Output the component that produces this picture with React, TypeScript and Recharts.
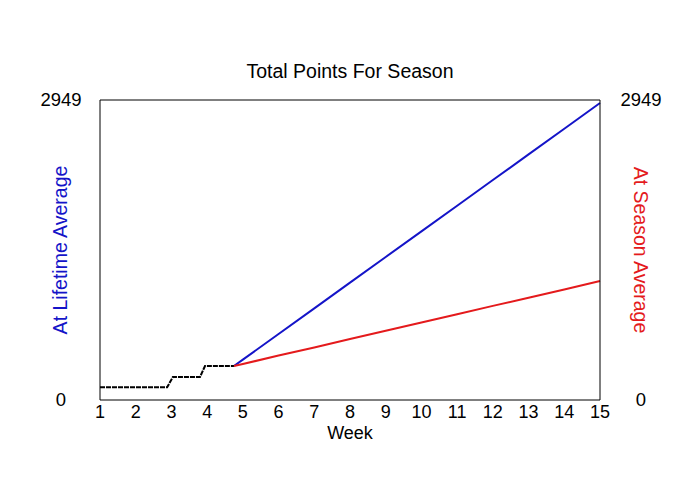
import { LineChart, Line, XAxis, YAxis, ReferenceLine } from 'recharts'

const weekTicks = [1, 2, 3, 4, 5, 6, 7, 8, 9, 10, 11, 12, 13, 14, 15]
const pointTicks = [0, 2949]

// weeks already played
const playedWeeks = [1, 2.88, 3.04, 3.8, 3.94, 4.75]
const playedPoints = [125, 125, 226, 226, 334, 334]

// projection at lifetime average
const lifetimeWeeks = [4.75, 5, 6, 7, 8, 9, 10, 11, 12, 13, 14, 15]
const lifetimePoints = [334, 397, 649, 901, 1154, 1406, 1658, 1910, 2162, 2414, 2667, 2919]

// projection at season average
const seasonWeeks = [4.75, 5, 6, 7, 8, 9, 10, 11, 12, 13, 14, 15]
const seasonPoints = [334, 354, 437, 517, 599, 680, 762, 843, 925, 1006, 1087, 1169]

const BLUE = '#1414c8'
const RED = '#e41a1c'
const FONT = '"Liberation Sans", Arial, sans-serif'

const toRows = (xs: number[], ys: number[]) => xs.map((week, i) => ({ week, pts: ys[i] }))

const played = toRows(playedWeeks, playedPoints)
const lifetime = toRows(lifetimeWeeks, lifetimePoints)
const season = toRows(seasonWeeks, seasonPoints)

function YTick({ y, payload, cx }: any) {
  return (
    <text x={cx} y={y} dy={5.5} textAnchor="middle" fontSize={18.5} fill="#000" fontFamily={FONT}>
      {payload.value}
    </text>
  )
}

function SideLabel({ viewBox, text, color, angle, offset }: any) {
  const x = viewBox.x + offset
  const y = viewBox.y + viewBox.height / 2
  return (
    <text x={x} y={y} textAnchor="middle" dominantBaseline="central" fontSize={19.5} fill={color}
      fontFamily={FONT} transform={`rotate(${angle} ${x} ${y})`}>
      {text}
    </text>
  )
}

export default function App() {
  return (
    <div style={{ position: 'absolute', left: 0, top: 0, width: 700, height: 500, background: '#fff', fontFamily: FONT }}>
      <div style={{ position: 'absolute', top: 62, left: 0, width: 700, textAlign: 'center', fontSize: 19.5, lineHeight: '19.5px', color: '#000' }}>
        Total Points For Season
      </div>
      <LineChart width={700} height={500} margin={{ top: 100, right: 0, bottom: 0, left: 0 }}>
        <XAxis
          type="number"
          dataKey="week"
          domain={[1, 15]}
          ticks={weekTicks}
          height={100}
          tickLine={false}
          tickSize={0}
          tickMargin={5}
          axisLine={{ stroke: '#000' }}
          tick={{ fontSize: 18, fill: '#000', fontFamily: FONT }}
          label={(p: any) => (
            <text x={p.viewBox.x + p.viewBox.width / 2} y={439} textAnchor="middle" fontSize={18} fill="#000" fontFamily={FONT}>
              Week
            </text>
          )}
        />
        <YAxis
          yAxisId="left"
          width={100}
          domain={[0, 2949]}
          ticks={pointTicks}
          allowDataOverflow
          tickLine={false}
          axisLine={{ stroke: '#000' }}
          tick={<YTick cx={61} />}
          label={(p: any) => <SideLabel viewBox={p.viewBox} text="At Lifetime Average" color={BLUE} angle={-90} offset={60} />}
        />
        <YAxis
          yAxisId="right"
          orientation="right"
          width={100}
          domain={[0, 2949]}
          ticks={pointTicks}
          allowDataOverflow
          tickLine={false}
          axisLine={{ stroke: '#000' }}
          tick={<YTick cx={641} />}
          label={(p: any) => <SideLabel viewBox={p.viewBox} text="At Season Average" color={RED} angle={90} offset={41} />}
        />
        <ReferenceLine yAxisId="left" y={2949} stroke="#000" ifOverflow="visible" />
        <Line yAxisId="left" data={lifetime} dataKey="pts" stroke={BLUE} strokeWidth={2} dot={false} isAnimationActive={false} />
        <Line yAxisId="right" data={season} dataKey="pts" stroke={RED} strokeWidth={2} dot={false} isAnimationActive={false} />
        <Line yAxisId="left" data={played} dataKey="pts" stroke="#000" strokeWidth={2} strokeDasharray="5 1" dot={false} isAnimationActive={false} />
      </LineChart>
    </div>
  )
}
